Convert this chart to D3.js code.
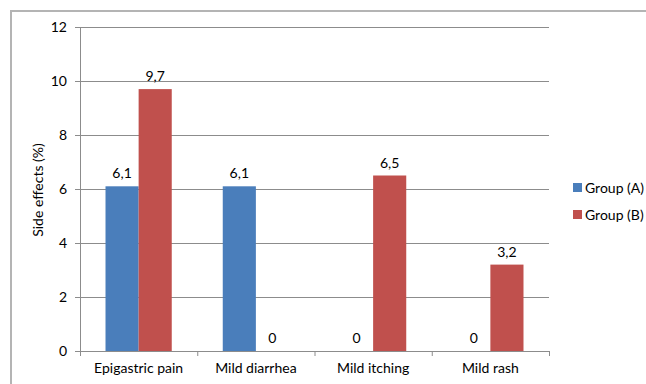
<!DOCTYPE html>
<html>
<head>
<meta charset="utf-8">
<script src="https://cdn.jsdelivr.net/npm/d3@7"></script>
<style>
  body { margin:0; background:#fff; }
  text { font-family: Lato, "Open Sans", sans-serif; fill:#000; }
</style>
</head>
<body>
<svg id="chart" width="646" height="384"></svg>
<script>
// chart data
let categories = ["Epigastric pain","Mild diarrhea","Mild itching","Mild rash"];
let groups = ["Group (A)","Group (B)"];
let groupA = [6.1, 6.1, 0, 0];
let groupB = [9.7, 0, 6.5, 3.2];
let yTicks = [0,2,4,6,8,10,12];
let colors = ["#4a7ebb","#c0504d"];

let svg = d3.select("#chart");
let margin = {left:80, right:97, top:27, bottom:33};
let W = 646, H = 384;
let fs = "14px";

// outer frame (top + left visible)
svg.append("path")
   .attr("d","M11,384 V11 H646")
   .attr("fill","none")
   .attr("stroke","#b4b4b4")
   .attr("stroke-width",2);

let x = d3.scaleBand()
          .domain(categories)
          .range([margin.left, W-margin.right])
          .paddingInner(0).paddingOuter(0);
let x1 = d3.scaleBand()
           .domain(groups)
           .range([0, x.bandwidth()])
           .paddingInner(0).paddingOuter(0.77);
let y = d3.scaleLinear().domain([0,12]).range([H-margin.bottom, margin.top]);

// gridlines
svg.append("g")
   .selectAll("line")
   .data(yTicks.filter(d => d>0))
   .join("line")
   .attr("x1",margin.left).attr("x2",W-margin.right)
   .attr("y1",d => y(d)+0.5).attr("y2",d => y(d)+0.5)
   .attr("stroke","#8c8c8c").attr("stroke-width",1);

// y axis
let yAxis = svg.append("g")
   .attr("transform","translate("+margin.left+",0)")
   .call(d3.axisLeft(y).tickValues(yTicks).tickSize(5).tickPadding(8));
yAxis.select(".domain").attr("stroke","#8c8c8c");
yAxis.selectAll(".tick line").attr("stroke","#8c8c8c");
yAxis.selectAll(".tick text").style("font-size",fs);

// x axis
let xAxis = svg.append("g")
   .attr("transform","translate(0,"+y(0)+")")
   .call(d3.axisBottom(x).tickSize(0).tickPadding(12));
xAxis.select(".domain").attr("stroke","#8c8c8c");
xAxis.selectAll(".tick text").style("font-size",fs);
// category separators
svg.append("g")
   .selectAll("line")
   .data(categories.map(c => x(c)).concat([x(categories[3])+x.bandwidth()]))
   .join("line")
   .attr("x1",d => d+0.5).attr("x2",d => d+0.5)
   .attr("y1",y(0)).attr("y2",y(0)+5)
   .attr("stroke","#8c8c8c");

// bars
let series = [groupA, groupB];
series.forEach(function(vals, gi) {
  let g = svg.append("g");
  g.selectAll("rect")
   .data(vals)
   .join("rect")
   .attr("x",(d,i) => x(categories[i]) + x1(groups[gi]))
   .attr("width",x1.bandwidth())
   .attr("y",d => y(d))
   .attr("height",d => y(0)-y(d))
   .attr("fill",colors[gi]);
  g.selectAll("text")
   .data(vals)
   .join("text")
   .attr("x",(d,i) => x(categories[i]) + x1(groups[gi]) + x1.bandwidth()/2)
   .attr("y",d => y(d)-8)
   .attr("text-anchor","middle")
   .style("font-size",fs)
   .text(d => String(d).replace(".",","));
});

// y axis title
svg.append("text")
   .attr("transform","translate(43,190) rotate(-90)")
   .attr("text-anchor","middle")
   .style("font-size",fs)
   .text("Side effects (%)");

// legend
let legend = svg.append("g").attr("transform","translate(573,183)");
groups.forEach(function(gname, i) {
  legend.append("rect")
        .attr("x",0).attr("y",i*27)
        .attr("width",9).attr("height",9)
        .attr("fill",colors[i]);
  legend.append("text")
        .attr("x",12).attr("y",i*27+9.5)
        .style("font-size",fs)
        .text(gname);
});
</script>
</body>
</html>
